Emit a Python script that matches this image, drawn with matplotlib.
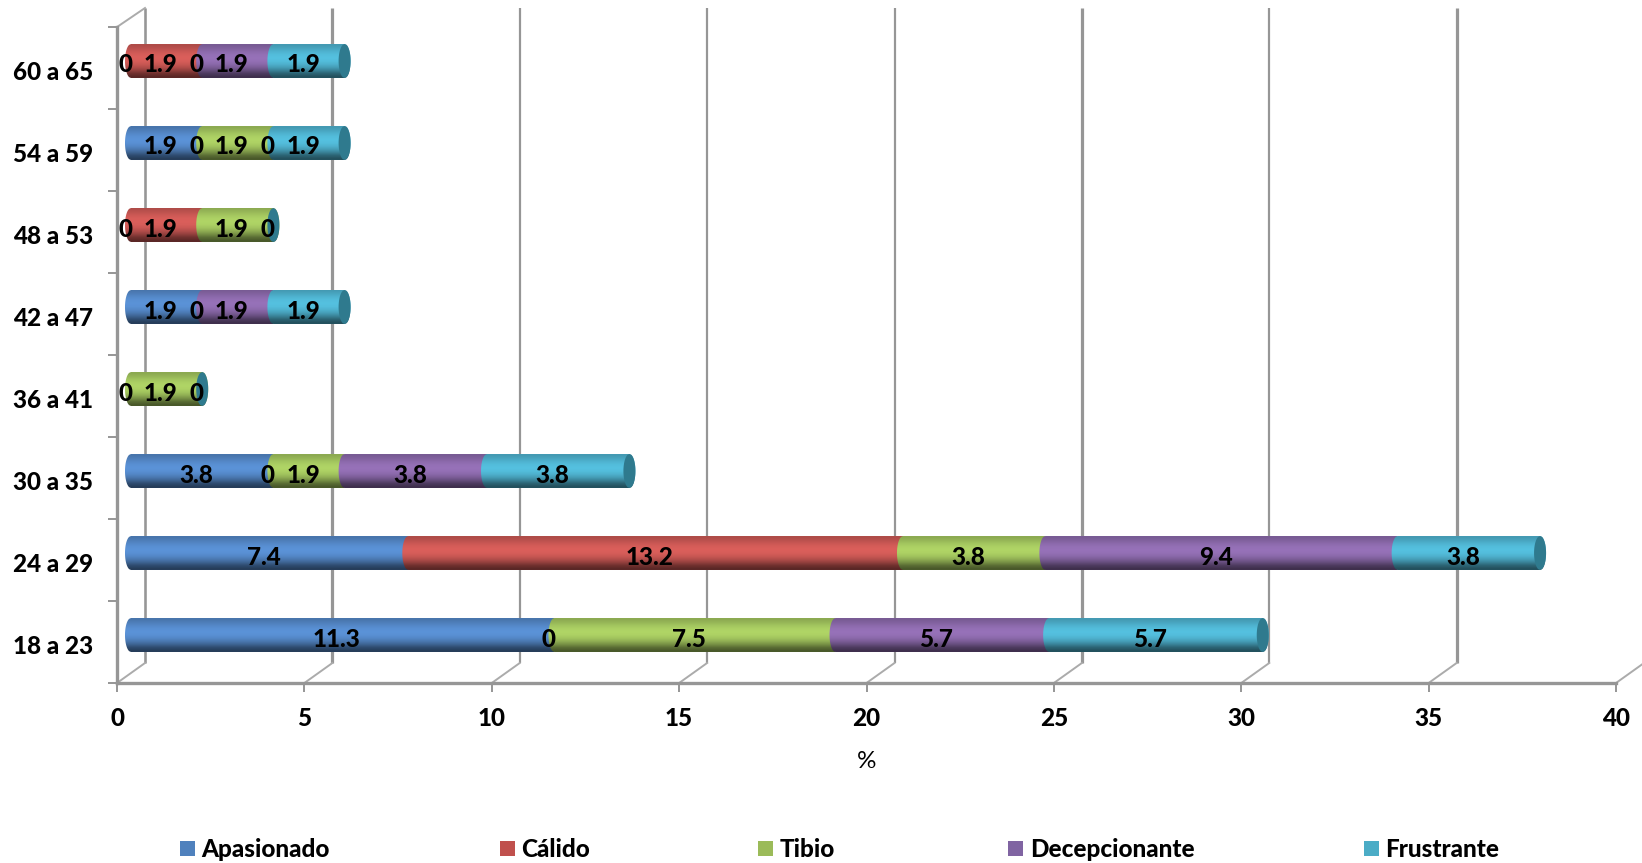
import numpy as np
import matplotlib
matplotlib.use("Agg")
import matplotlib.pyplot as plt
from matplotlib.patches import PathPatch, Rectangle
from matplotlib.path import Path
from matplotlib.colors import to_rgb
from matplotlib.transforms import ScaledTranslation

categories = ["18 a 23", "24 a 29", "30 a 35", "36 a 41", "42 a 47", "48 a 53", "54 a 59", "60 a 65"]
series_names = ["Apasionado", "Cálido", "Tibio", "Decepcionante", "Frustrante"]
nan = float("nan")
apasionado = [11.3, 7.4, 3.8, 0, 1.9, 0, 1.9, 0]
calido = [0, 13.2, 0, nan, 0, 1.9, 0, 1.9]
tibio = [7.5, 3.8, 1.9, 1.9, nan, 1.9, 1.9, 0]
decepcionante = [5.7, 9.4, 3.8, 0, 1.9, 0, 0, 1.9]
frustrante = [5.7, 3.8, 3.8, nan, 1.9, nan, 1.9, 1.9]
series_values = [apasionado, calido, tibio, decepcionante, frustrante]
x_ticks = [0, 5, 10, 15, 20, 25, 30, 35, 40]

W, H = 1642, 863
bar_colors = ["#5B93D8", "#DB5F5B", "#B0D566", "#9772B9", "#55C1E0"]
legend_colors = ["#4F81BD", "#C0504D", "#9BBB59", "#8064A2", "#4BACC6"]
cap_color = "#2F7A8E"
grid_color = "#969696"
grid_widths = [2.6, 3.2, 2.2, 2.2, 2.2, 3.2, 2.2, 3.2, 0]

plt.rcParams["font.family"] = ["Lato", "DejaVu Sans"]
plt.rcParams["font.weight"] = "black"
FS = 17.5

fig = plt.figure(figsize=(W / 100, H / 100), dpi=100)
L, R, B, T = 117, 1616, 683, 27
ax = fig.add_axes([L / W, 1 - B / H, (R - L) / W, (B - T) / H])

px_x = (R - L) / 40
px_y = (B - T) / 8
DX, DY = 28 / px_x, 20 / px_y
top_wall = (B - 8) / px_y

# back wall and floor guides
for tick, lw in zip(x_ticks, grid_widths):
    if lw:
        ax.plot([tick + DX, tick + DX], [DY, top_wall], color=grid_color, lw=lw * 0.72, clip_on=False, zorder=1,
                solid_capstyle="butt")
    ax.plot([tick, tick + DX], [0, DY], color="#ababab", lw=1.4, clip_on=False, zorder=1)
ax.plot([0, DX], [8, top_wall], color="#ababab", lw=1.4, clip_on=False, zorder=1)

# cylinder shading
shade = np.array([0.80, 0.86, 0.93, 0.98, 1.0, 0.98, 0.92, 0.82, 0.68, 0.52, 0.42])[:, None, None]


def gradient(color):
    return np.clip(shade * np.array(to_rgb(color))[None, None, :], 0, 1)


bar_x0 = 14 / px_x
bar_h = 34 / px_y
bar_off = 7 / px_y
cap_w = 6 / px_x
label_dx = -6 / px_x
label_dy = -4 / px_y
t = np.linspace(-1, 1, 41)
bulge = np.sqrt(1 - t ** 2)

for row in range(len(categories)):
    y0 = row + 0.5 + bar_off - bar_h / 2
    ys = row + 0.5 + bar_off + t * bar_h / 2
    left = bar_x0
    ends = []
    labels = []
    for k, vals in enumerate(series_values):
        v = vals[row]
        if np.isnan(v):
            continue
        right = left + v
        labels.append((left + v / 2, v))
        if v > 0:
            ends.append((left, right, k))
        left = right
    for j, (a, b, k) in enumerate(ends):
        last = j == len(ends) - 1
        xy = np.vstack([
            np.column_stack([a - cap_w * bulge, ys]),
            np.column_stack([(b + cap_w * bulge) if last else np.full_like(ys, b), ys])[::-1],
        ])
        patch = PathPatch(Path(np.vstack([xy, xy[:1]]), closed=True), fc="none", ec="none", zorder=2 + j * 0.1)
        ax.add_patch(patch)
        im = ax.imshow(gradient(bar_colors[k]), extent=[a - 1, b + 1, y0, y0 + bar_h], aspect="auto",
                       interpolation="bilinear", origin="upper", zorder=2 + j * 0.1)
        im.set_clip_path(patch)
    capx = left
    cap = np.vstack([
        np.column_stack([capx - cap_w * bulge, ys]),
        np.column_stack([capx + cap_w * bulge, ys])[::-1],
    ])
    ax.add_patch(PathPatch(Path(np.vstack([cap, cap[:1]]), closed=True), fc=cap_color, ec="none", zorder=3))
    for lx, v in labels:
        ax.text(lx + label_dx, row + 0.5 + bar_off + label_dy, f"{v:g}", ha="center", va="center",
                fontsize=FS, color="black", zorder=5)

ax.set_xlim(0, 40)
ax.set_ylim(0, 8)
ax.set_xticks(x_ticks)
ax.set_yticks(range(9))
ax.set_yticklabels([])
ax.set_yticks(np.arange(len(categories)) + 0.5, categories, minor=True)
ax.tick_params(axis="y", which="minor", length=0, pad=17, labelsize=FS)
ax.tick_params(axis="y", which="major", length=6.5, width=1.4, color="#969696")
ax.tick_params(axis="x", length=6.5, width=1.4, color="#969696", pad=11, labelsize=FS)
shift = ScaledTranslation(0, -2 / 100, fig.dpi_scale_trans)
for label in ax.get_yticklabels(minor=True):
    label.set_transform(label.get_transform() + shift)
for s in ["top", "right"]:
    ax.spines[s].set_visible(False)
for s in ["left", "bottom"]:
    ax.spines[s].set_color("#969696")
    ax.spines[s].set_linewidth(2.4)
ax.patch.set_alpha(0)
ax.set_xlabel("%", fontsize=FS, labelpad=15)

# legend
marker_x = [180, 500, 758, 1008, 1364]
text_x = [201, 521, 780, 1030, 1385]
leg_y = 849
for name, mx, tx, col in zip(series_names, marker_x, text_x, legend_colors):
    fig.add_artist(Rectangle((mx / W, 1 - (leg_y + 7) / H), 15 / W, 15 / H, transform=fig.transFigure,
                             fc=col, ec="none"))
    fig.text(tx / W, 1 - leg_y / H, name, ha="left", va="center", fontsize=FS)

fig.savefig("out.png", dpi=100)
